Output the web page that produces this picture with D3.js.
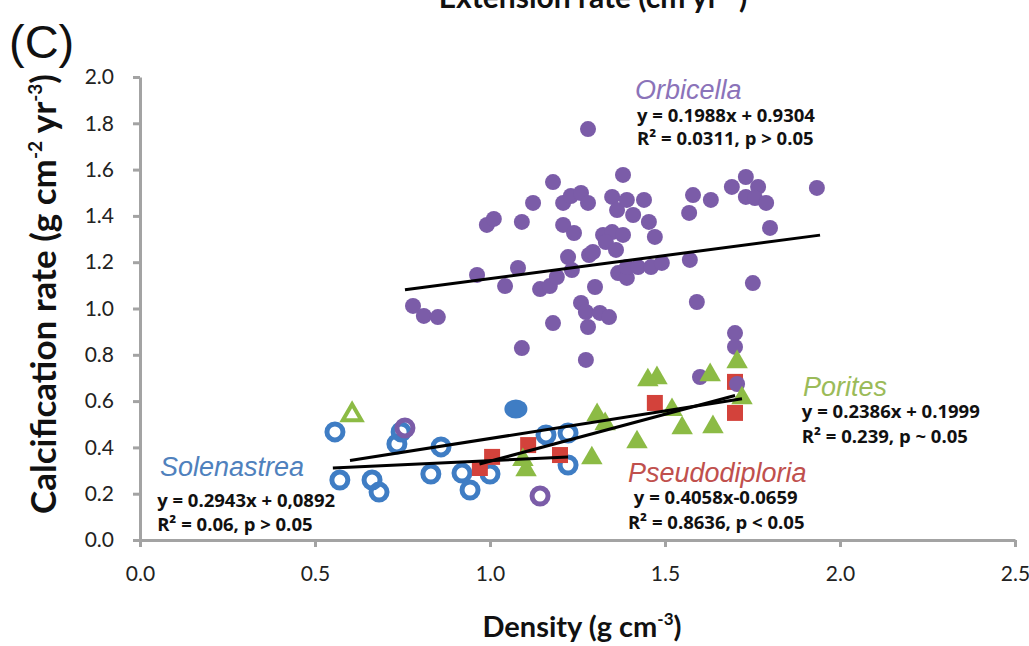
<!DOCTYPE html>
<html>
<head>
<meta charset="utf-8">
<script src="https://cdn.jsdelivr.net/npm/d3@7"></script>
<style>
  body { margin: 0; background: #fff; }
  svg { display: block; }
</style>
</head>
<body>
<svg id="chart" width="1029" height="646"></svg>
<script>
// ---- data (density, calcification) ----
var orbicella = [
  [1.280,1.775],[0.780,1.011],[0.811,0.968],[0.851,0.963],[1.091,0.829],[1.274,0.778],
  [1.180,0.937],[1.280,0.920],[1.300,1.093],[1.260,1.024],[1.274,0.985],[1.314,0.981],
  [1.340,0.963],[1.043,1.097],[0.963,1.145],[1.080,1.175],[1.143,1.084],[1.171,1.097],
  [1.191,1.136],[1.223,1.222],[1.234,1.166],[1.283,1.231],[1.294,1.244],[1.323,1.318],
  [1.349,1.330],[1.380,1.318],[1.331,1.287],[1.360,1.253],[1.366,1.153],[1.391,1.132],
  [1.391,1.179],[1.423,1.179],[1.460,1.179],[1.491,1.197],[1.571,1.210],[1.209,1.361],
  [1.240,1.326],[0.991,1.361],[1.011,1.387],[1.091,1.374],[1.123,1.456],[1.180,1.546],
  [1.209,1.456],[1.231,1.486],[1.260,1.499],[1.280,1.456],[1.349,1.482],[1.363,1.425],
  [1.391,1.469],[1.440,1.469],[1.380,1.577],[1.409,1.404],[1.454,1.374],[1.471,1.309],
  [1.569,1.413],[1.580,1.490],[1.631,1.469],[1.691,1.525],[1.731,1.568],[1.766,1.525],
  [1.731,1.482],[1.757,1.477],[1.789,1.456],[1.800,1.348],[1.934,1.521],[1.751,1.110],
  [1.591,1.028],[1.700,0.894],[1.700,0.834],[1.600,0.704],[1.706,0.674]
];
var solenastrea = [
  [0.557,0.467],[0.571,0.259],[0.663,0.259],[0.683,0.207],[0.734,0.415],[0.746,0.467],
  [0.860,0.402],[0.831,0.285],[0.920,0.289],[0.943,0.216],[1.000,0.285],[1.160,0.454],
  [1.223,0.462],[1.223,0.324]
];
var solenastreaFilled = [[1.074,0.566]];
var orbicellaOpen = [[0.757,0.484],[1.143,0.190]];
var pseudodiploria = [
  [0.971,0.311],[1.006,0.359],[1.109,0.410],[1.200,0.367],[1.471,0.592],[1.700,0.683],[1.700,0.549]
];
var porites = [
  [1.094,0.346],[1.103,0.302],[1.291,0.354],[1.306,0.540],[1.329,0.501],[1.420,0.423],
  [1.451,0.691],[1.477,0.700],[1.520,0.562],[1.549,0.484],[1.637,0.488],[1.629,0.713],
  [1.706,0.769],[1.720,0.613]
];
var poritesOpen = [[0.606,0.540]];

// trend lines as drawn (start, end)
var trendLines = [
  [[0.757,1.081],[1.943,1.317]],
  [[0.600,0.343],[1.720,0.610]],
  [[0.970,0.328],[1.700,0.624]],
  [[0.551,0.311],[1.223,0.359]]
];

var xTicks = [0, 0.5, 1.0, 1.5, 2.0, 2.5];
var yTicks = [0, 0.2, 0.4, 0.6, 0.8, 1.0, 1.2, 1.4, 1.6, 1.8, 2.0];

// annotation text: [x, y (data units, left/baseline), text, kind]
var labels = [
  [1.414, 1.905, "Orbicella", "purple"],
  [1.420, 1.806, "y = 0.1988x + 0.9304", "eq"],
  [1.420, 1.706, "R² = 0.0311, p > 0.05", "eq"],
  [1.894, 0.622, "Porites", "green"],
  [1.891, 0.527, "y = 0.2386x + 0.1999", "eq"],
  [1.891, 0.419, "R² = 0.239, p ~ 0.05", "eq"],
  [1.394, 0.251, "Pseudodiploria", "red"],
  [1.411, 0.156, "y = 0.4058x-0.0659", "eq"],
  [1.394, 0.048, "R² = 0.8636, p < 0.05", "eq"],
  [0.057, 0.276, "Solenastrea", "blue"],
  [0.049, 0.143, "y = 0.2943x + 0,0892", "eq"],
  [0.049, 0.039, "R² = 0.06, p > 0.05", "eq"]
];

var colors = {
  purple: "#7b5ca8", purpleText: "#8b73b9",
  blue: "#3f7dc4", blueText: "#4f81bd",
  red: "#d3423b", redText: "#c0504d",
  green: "#8cbb45", greenText: "#9bbb59"
};

var svg = d3.select("#chart");

var x = d3.scaleLinear().domain([0, 2.5]).range([140, 1015]);
var y = d3.scaleLinear().domain([0, 2]).range([540, 77]);

// title, cut off at the top like in the source figure
svg.append("text")
    .attr("x", 593).attr("y", 8)
    .attr("text-anchor", "middle")
    .style("font-family", "Lato, sans-serif")
    .style("font-weight", "bold")
    .style("font-size", "30px")
    .style("fill", "#111")
    .text("Extension rate (cm yr⁻¹)");

svg.append("text")
    .attr("x", 9).attr("y", 58)
    .style("font-family", "Liberation Sans, Arial, sans-serif")
    .style("font-size", "47px")
    .style("fill", "#111")
    .text("(C)");

// axes
var yAxis = svg.append("g")
    .attr("transform", "translate(140,0)")
    .call(d3.axisLeft(y).tickValues(yTicks).tickSize(7).tickSizeOuter(0).tickPadding(19)
      .tickFormat(d3.format(".1f")));
var xAxis = svg.append("g")
    .attr("transform", "translate(0,540)")
    .call(d3.axisBottom(x).tickValues(xTicks).tickSize(7).tickSizeOuter(0).tickPadding(19)
      .tickFormat(d3.format(".1f")));

[xAxis, yAxis].forEach(function(a){
  a.select(".domain").attr("stroke", "#a3a3a3").attr("stroke-width", 3);
  a.selectAll(".tick line").attr("stroke", "#a3a3a3").attr("stroke-width", 3);
  a.selectAll(".tick text")
    .style("font-family", "Lato, sans-serif")
    .style("font-size", "21px")
    .style("fill", "#222");
});

// axis titles
var yt = svg.append("text")
    .attr("transform", "translate(56,294) rotate(-90)")
    .attr("text-anchor", "middle")
    .style("font-family", "Lato, sans-serif")
    .style("font-weight", "bold")
    .style("font-size", "35px")
    .style("fill", "#111");
yt.append("tspan").text("Calcification rate (g cm");
yt.append("tspan").attr("dy", -14).style("font-size", "19px").text("-2");
yt.append("tspan").attr("dy", 14).text(" yr");
yt.append("tspan").attr("dy", -14).style("font-size", "19px").text("-3");
yt.append("tspan").attr("dy", 14).text(")");

var xt = svg.append("text")
    .attr("x", 582).attr("y", 637)
    .attr("text-anchor", "middle")
    .style("font-family", "Lato, sans-serif")
    .style("font-weight", "bold")
    .style("font-size", "29px")
    .style("fill", "#111");
xt.append("tspan").text("Density (g cm");
xt.append("tspan").attr("dy", -12).style("font-size", "17px").text("-3");
xt.append("tspan").attr("dy", 12).text(")");

// marks
svg.append("g").selectAll("circle")
    .data(solenastrea)
  .enter().append("circle")
    .attr("cx", function(d){ return x(d[0]); })
    .attr("cy", function(d){ return y(d[1]); })
    .attr("r", 8)
    .attr("fill", "none")
    .attr("stroke", colors.blue)
    .attr("stroke-width", 5);

svg.append("g").selectAll("ellipse")
    .data(solenastreaFilled)
  .enter().append("ellipse")
    .attr("cx", function(d){ return x(d[0]); })
    .attr("cy", function(d){ return y(d[1]); })
    .attr("rx", 11.5).attr("ry", 9.5)
    .attr("fill", colors.blue);

svg.append("g").selectAll("path")
    .data(pseudodiploria)
  .enter().append("path")
    .attr("d", d3.symbol().type(d3.symbolSquare).size(16 * 16))
    .attr("transform", function(d){ return "translate(" + x(d[0]) + "," + y(d[1]) + ")"; })
    .attr("fill", colors.red);

svg.append("g").selectAll("circle")
    .data(orbicella)
  .enter().append("circle")
    .attr("cx", function(d){ return x(d[0]); })
    .attr("cy", function(d){ return y(d[1]); })
    .attr("r", 8)
    .attr("fill", colors.purple);

svg.append("g").selectAll("circle")
    .data(orbicellaOpen)
  .enter().append("circle")
    .attr("cx", function(d){ return x(d[0]); })
    .attr("cy", function(d){ return y(d[1]); })
    .attr("r", 8)
    .attr("fill", "none")
    .attr("stroke", colors.purple)
    .attr("stroke-width", 5);

svg.append("g").selectAll("path")
    .data(porites)
  .enter().append("path")
    .attr("d", d3.symbol().type(d3.symbolTriangle).size(200))
    .attr("transform", function(d){ return "translate(" + x(d[0]) + "," + y(d[1]) + ")"; })
    .attr("fill", colors.green);

svg.append("g").selectAll("path")
    .data(poritesOpen)
  .enter().append("path")
    .attr("d", d3.symbol().type(d3.symbolTriangle).size(150))
    .attr("transform", function(d){ return "translate(" + x(d[0]) + "," + y(d[1]) + ")"; })
    .attr("fill", "none")
    .attr("stroke", colors.green)
    .attr("stroke-width", 4);

// regression lines
var line = d3.line()
    .x(function(d){ return x(d[0]); })
    .y(function(d){ return y(d[1]); });
svg.append("g").selectAll("path")
    .data(trendLines)
  .enter().append("path")
    .attr("d", line)
    .attr("fill", "none")
    .attr("stroke", "#000")
    .attr("stroke-width", 3);

// annotations
var textColor = { purple: colors.purpleText, green: colors.greenText, red: colors.redText, blue: colors.blueText };
svg.append("g").selectAll("text")
    .data(labels)
  .enter().append("text")
    .attr("x", function(d){ return x(d[0]); })
    .attr("y", function(d){ return y(d[1]); })
    .style("font-family", function(d){ return d[3] == "eq" ? "Open Sans, sans-serif" : "Liberation Sans, Arial, sans-serif"; })
    .style("font-weight", function(d){ return d[3] == "eq" ? "bold" : "normal"; })
    .style("font-style", function(d){ return d[3] == "eq" ? "normal" : "italic"; })
    .style("font-size", function(d){ return d[3] == "eq" ? "18.5px" : "27px"; })
    .style("fill", function(d){ return d[3] == "eq" ? "#111" : textColor[d[3]]; })
    .text(function(d){ return d[2]; });
</script>
</body>
</html>
